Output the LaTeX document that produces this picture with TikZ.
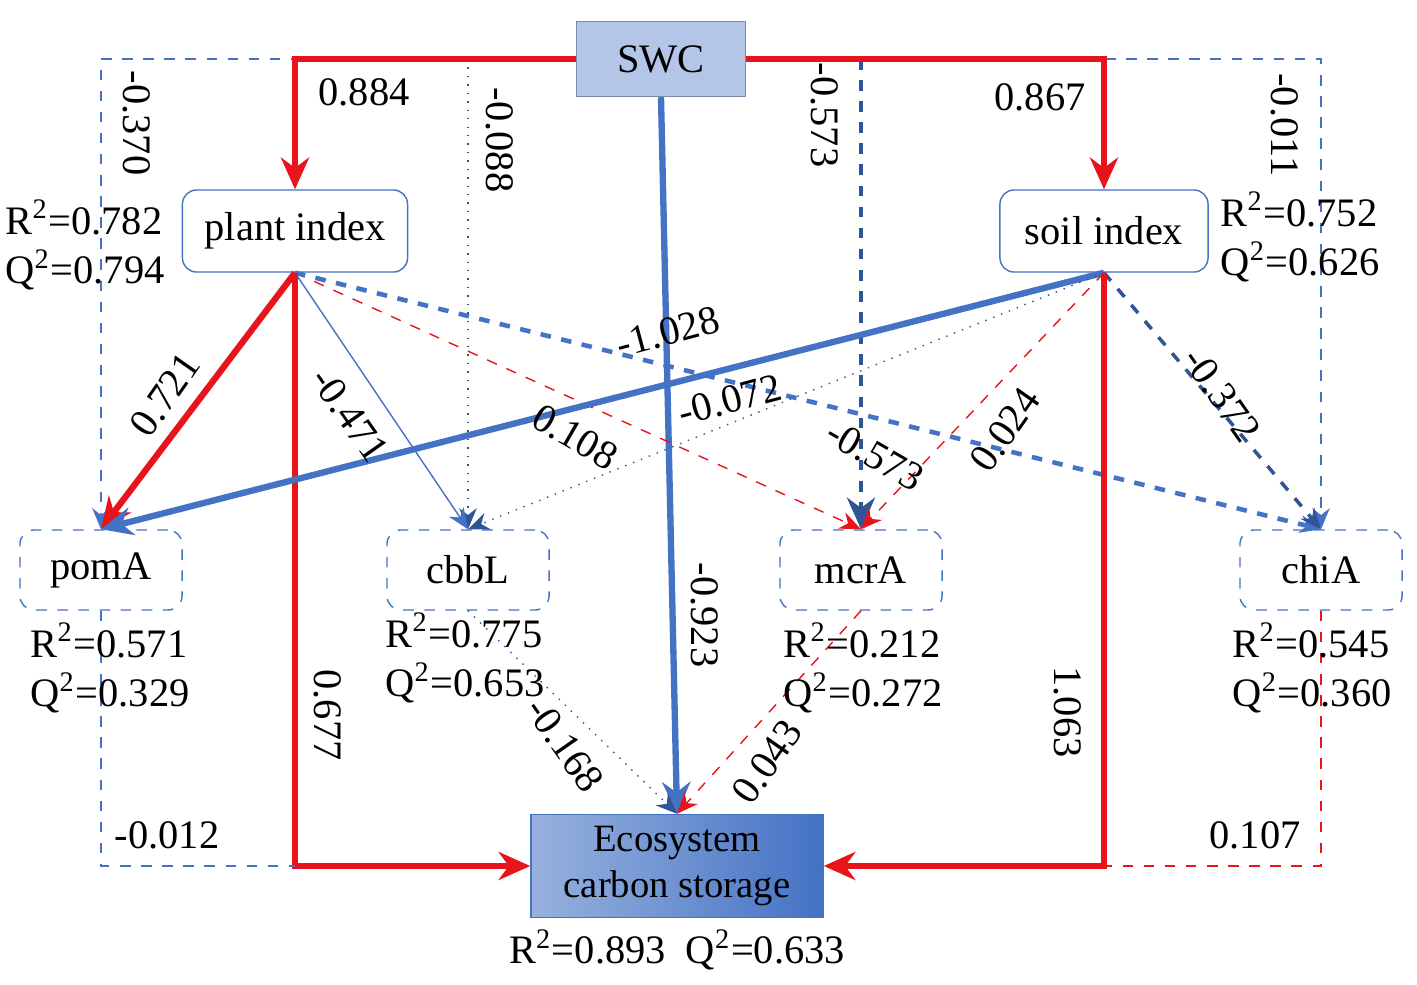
\documentclass[tikz,border=0pt]{standalone}
\usepackage{fontspec}
\setmainfont{Liberation Serif}
\usetikzlibrary{arrows.meta}
\definecolor{lineblue}{HTML}{4472C4}
\definecolor{darkblue}{HTML}{2F5597}
\definecolor{linered}{HTML}{E8141B}
\definecolor{boxblue}{HTML}{B4C6E7}
\begin{document}
\begin{tikzpicture}[x=0.01cm, y=-0.01cm,
    every node/.style={font=\fontsize{11.5}{14}\selectfont},
    latent/.style={draw=lineblue, rectangle, rounded corners=4pt, minimum height=0.82cm, align=center},
    gene/.style={draw=lineblue, dashed, rectangle, rounded corners=4pt, minimum width=1.62cm, minimum height=0.8cm, align=center},
    posarrow/.style={-{Stealth[length=9pt,width=8pt]}, linered, line width=1.8pt},
    negarrow/.style={-{Stealth[length=9pt,width=8pt]}, lineblue, line width=1.8pt},
    weak/.style={-{Stealth[length=6pt,width=5pt]}, thin},
    lbl/.style={inner sep=1pt}
]
    \useasboundingbox (0,0) rectangle (1417,985);

    % latent variables
    \node[draw=boxblue!70!black, fill=boxblue, minimum width=1.69cm, minimum height=0.75cm] (swc) at (661,59) {SWC};
    \node[latent, minimum width=2.25cm] (plant) at (295,231) {plant index};
    \node[latent, minimum width=2.08cm] (soil) at (1104,231) {soil index};
    \node[draw=lineblue, left color=lineblue!55, right color=lineblue, minimum width=2.92cm, minimum height=1.03cm, inner sep=1pt, align=center, font=\fontsize{11}{13}\selectfont] (eco) at (677,866) {Ecosystem\\carbon storage};

    % genes
    \node[gene] (pom) at (101,570) {pomA};
    \node[gene] (cbb) at (468,570) {cbbL};
    \node[gene] (mcr) at (861,570) {mcrA};
    \node[gene] (chi) at (1321,570) {chiA};

    % SWC paths
    \draw[weak, dashed, lineblue] (swc.west) -| (pom.north);
    \draw[weak, dotted, darkblue] (cbb.north |- swc.west) -- (cbb.north);
    \draw[weak, dashed, lineblue] (swc.east) -| (chi.north);
    \draw[-{Stealth[length=9pt,width=8pt]}, dashed, darkblue, line width=1.3pt] (mcr.north |- swc.west) -- (mcr.north);
    \draw[posarrow] (swc.west) -| (plant.north);
    \draw[posarrow] (swc.east) -| (soil.north);
    \draw[negarrow] (swc.south) -- (eco.north);

    % plant index paths
    \draw[posarrow] (plant.south) -- (pom.north);
    \draw[weak, lineblue] (plant.south) -- (cbb.north);
    \draw[weak, dashed, linered] (plant.south) -- (mcr.north);
    \draw[weak, dashed, lineblue, line width=1.3pt] (plant.south) -- (chi.north);
    \draw[posarrow] (plant.south) |- (eco.west);

    % soil index paths
    \draw[negarrow] (soil.south) -- (pom.north);
    \draw[weak, dotted, darkblue] (soil.south) -- (cbb.north);
    \draw[weak, dashed, linered] (soil.south) -- (mcr.north);
    \draw[weak, dashed, darkblue, line width=1pt] (soil.south) -- (chi.north);
    \draw[posarrow] (soil.south) |- (eco.east);

    % gene paths
    \draw[dashed, lineblue, thin] (pom.south) |- (plant.south |- eco.west);
    \draw[weak, dotted, darkblue] (cbb.south) -- (eco.north);
    \draw[weak, dashed, linered] (mcr.south) -- (eco.north);
    \draw[dashed, linered, thin] (chi.south) |- (soil.south |- eco.east);

    % coefficients
    \node[lbl] (c1) at (364,92) {0.884};
    \node[lbl] (c2) at (1040,97) {0.867};
    \node[lbl, rotate=-90] (c3) at (137,123) {-0.370};
    \node[lbl, rotate=-90] (c4) at (500,140) {-0.088};
    \node[lbl, rotate=-90] (c5) at (825,115) {-0.573};
    \node[lbl, rotate=-90] (c6) at (1285,125) {-0.011};
    \node[lbl, rotate=-90] (c7) at (705,615) {-0.923};
    \node[lbl, rotate=55] (c8) at (165,395) {0.721};
    \node[lbl, rotate=-55] (c9) at (350,415) {-0.471};
    \node[lbl, rotate=-90] (c10) at (328,715) {0.677};
    \node[lbl, rotate=-90] (c11) at (1068,712) {1.063};
    \node[lbl, rotate=15] (c12) at (668,332) {-1.028};
    \node[lbl, rotate=15] (c13) at (730,400) {-0.072};
    \node[lbl, rotate=-30] (c14) at (575,437) {0.108};
    \node[lbl, rotate=-30] (c15) at (875,455) {-0.573};
    \node[lbl, rotate=55] (c16) at (1005,430) {0.024};
    \node[lbl, rotate=-55] (c17) at (1222,395) {-0.372};
    \node[lbl, rotate=-55] (c18) at (565,745) {-0.168};
    \node[lbl, rotate=55] (c19) at (767,762) {0.043};
    \node[lbl] (c20) at (167,835) {-0.012};
    \node[lbl] (c21) at (1255,835) {0.107};

    % explained variance
    \node[align=left] (rp) at (85,245) {R\textsuperscript{2}=0.782\\Q\textsuperscript{2}=0.794};
    \node[align=left] (rs) at (1300,237) {R\textsuperscript{2}=0.752\\Q\textsuperscript{2}=0.626};
    \node[align=left] (rpom) at (110,668) {R\textsuperscript{2}=0.571\\Q\textsuperscript{2}=0.329};
    \node[align=left] (rcbb) at (465,658) {R\textsuperscript{2}=0.775\\Q\textsuperscript{2}=0.653};
    \node[align=left] (rmcr) at (863,668) {R\textsuperscript{2}=0.212\\Q\textsuperscript{2}=0.272};
    \node[align=left] (rchi) at (1312,668) {R\textsuperscript{2}=0.545\\Q\textsuperscript{2}=0.360};
    \node (reco) at (677,950) {R\textsuperscript{2}=0.893\enspace Q\textsuperscript{2}=0.633};
\end{tikzpicture}
\end{document}
